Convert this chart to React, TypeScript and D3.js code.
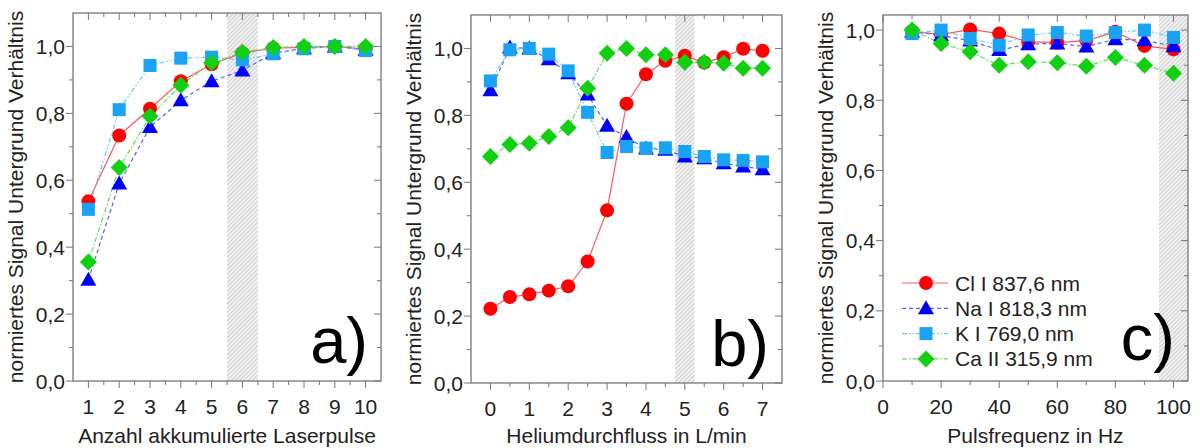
import React from 'react'
import { scaleLinear, line, range, format } from 'd3'

// Series values
const pulsesX = [1, 2, 3, 4, 5, 6, 7, 8, 9, 10]
const pulsesCl = [0.537, 0.734, 0.814, 0.896, 0.947, 0.98, 0.995, 0.997, 1.0, 0.992]
const pulsesNa = [0.303, 0.59, 0.759, 0.839, 0.896, 0.928, 0.98, 0.995, 1.0, 0.99]
const pulsesK = [0.513, 0.811, 0.943, 0.965, 0.968, 0.96, 0.978, 0.993, 1.0, 0.988]
const pulsesCa = [0.356, 0.638, 0.791, 0.884, 0.951, 0.983, 0.997, 1.0, 1.0, 1.0]

const heliumX = [0, 0.5, 1, 1.5, 2, 2.5, 3, 3.5, 4, 4.5, 5, 5.5, 6, 6.5, 7]
const heliumCl = [0.222, 0.257, 0.265, 0.276, 0.289, 0.363, 0.516, 0.835, 0.923, 0.963, 0.978, 0.958, 0.974, 0.999, 0.993]
const heliumNa = [0.875, 1.003, 1.0, 0.968, 0.926, 0.862, 0.769, 0.735, 0.701, 0.697, 0.677, 0.672, 0.657, 0.647, 0.639]
const heliumK = [0.903, 0.996, 1.0, 0.983, 0.933, 0.809, 0.689, 0.707, 0.702, 0.703, 0.692, 0.677, 0.667, 0.665, 0.661]
const heliumCa = [0.677, 0.713, 0.717, 0.737, 0.763, 0.881, 0.986, 1.0, 0.981, 0.981, 0.959, 0.959, 0.956, 0.941, 0.941]

const freqX = [10, 20, 30, 40, 50, 60, 70, 80, 90, 100]
const freqCl = [0.997, 0.987, 1.002, 0.99, 0.967, 0.964, 0.97, 0.995, 0.955, 0.945]
const freqNa = [0.995, 0.985, 0.97, 0.943, 0.96, 0.962, 0.953, 0.974, 0.971, 0.954]
const freqK = [0.99, 1.0, 0.976, 0.957, 0.986, 0.993, 0.983, 0.993, 1.0, 0.979]
const freqCa = [1.0, 0.962, 0.938, 0.9, 0.91, 0.907, 0.897, 0.922, 0.9, 0.877]

const seriesNames = ['Cl I 837,6 nm', 'Na I 818,3 nm', 'K I 769,0 nm', 'Ca II 315,9 nm']

const yTitle = 'normiertes Signal Untergrund Verhältnis'

const styles = [
    { marker: 'circle', fill: '#ff0000', stroke: '#ff5a5a', dash: null },
    { marker: 'triangle', fill: '#0000ff', stroke: '#5c5cff', dash: '4,3' },
    { marker: 'square', fill: '#1aa3f5', stroke: '#6cc6ff', dash: '5,2,1.5,2,1.5,2' },
    { marker: 'diamond', fill: '#11d011', stroke: '#5fe05f', dash: '5,2,1.5,2' },
]

const fmt = (v: number) => format('.1f')(v).replace('.', ',')
const FONT = '"Liberation Sans", Arial, sans-serif'
const TEXT = '#222'
const FRAME = '#777'
const FS = 21

const Marker = ({ type, x, y, fill }: any) => {
    if (type === 'circle') return <circle cx={x} cy={y} r={7} fill={fill} />
    if (type === 'triangle') return <path d={`M${x},${y - 8}L${x + 8},${y + 6}L${x - 8},${y + 6}Z`} fill={fill} />
    if (type === 'square') return <rect x={x - 6.5} y={y - 6.5} width={13} height={13} fill={fill} />
    return <path d={`M${x},${y - 8.5}L${x + 8.5},${y}L${x},${y + 8.5}L${x - 8.5},${y}Z`} fill={fill} />
}

const Panel = ({ box, xDomain, yDomain, xTicks, xMinor, xLabels, band, xs, ys, title, letter, letterY, showLegend, id }: any) => {
    const { left, right, top, bottom } = box
    const xScale = scaleLinear().domain(xDomain).range([left, right])
    const yScale = scaleLinear().domain(yDomain).range([bottom, top])
    const yTicks = range(0, 1.01, 0.2)
    const yMinor = range(0.1, yDomain[1], 0.2)

    return (
        <g fontFamily={FONT}>
            <defs>
                <pattern id={`hatch-${id}`} width={3} height={3} patternUnits="userSpaceOnUse" patternTransform="rotate(45)">
                    <rect width={3} height={3} fill="#f2f2f2" />
                    <line x1={0} y1={0} x2={0} y2={3} stroke="#b5b5b5" strokeWidth={1.2} />
                </pattern>
                <clipPath id={`clip-${id}`}>
                    <rect x={left} y={top} width={right - left} height={bottom - top} />
                </clipPath>
            </defs>
            <rect x={xScale(band[0])} y={top} width={xScale(band[1]) - xScale(band[0])} height={bottom - top} fill={`url(#hatch-${id})`} />

            {/* ticks */}
            {xTicks.map((t: number, i: number) => (
                <g key={'xt' + i}>
                    <line x1={xScale(t)} x2={xScale(t)} y1={bottom} y2={bottom + 7} stroke={FRAME} />
                    <line x1={xScale(t)} x2={xScale(t)} y1={top} y2={top + 7} stroke={FRAME} />
                    <text x={xScale(t)} y={bottom + 33} textAnchor="middle" fontSize={FS} fill={TEXT}>{xLabels[i]}</text>
                </g>
            ))}
            {xMinor.map((t: number, i: number) => (
                <g key={'xm' + i}>
                    <line x1={xScale(t)} x2={xScale(t)} y1={bottom} y2={bottom + 4} stroke={FRAME} />
                    <line x1={xScale(t)} x2={xScale(t)} y1={top} y2={top + 4} stroke={FRAME} />
                </g>
            ))}
            {yTicks.map((t: number, i: number) => (
                <g key={'yt' + i}>
                    <line x1={left - 7} x2={left} y1={yScale(t)} y2={yScale(t)} stroke={FRAME} />
                    <line x1={right - 7} x2={right} y1={yScale(t)} y2={yScale(t)} stroke={FRAME} />
                    <text x={left - 8} y={yScale(t) + 7.5} textAnchor="end" fontSize={FS} fill={TEXT}>{fmt(t)}</text>
                </g>
            ))}
            {yMinor.map((t: number, i: number) => (
                <g key={'ym' + i}>
                    <line x1={left - 4} x2={left} y1={yScale(t)} y2={yScale(t)} stroke={FRAME} />
                    <line x1={right - 4} x2={right} y1={yScale(t)} y2={yScale(t)} stroke={FRAME} />
                </g>
            ))}

            {/* series */}
            <g clipPath={`url(#clip-${id})`}>
                {ys.map((vals: number[], s: number) => {
                    const st = styles[s]
                    const path = line<number>().x((_, i) => xScale(xs[i])).y(v => yScale(v))(vals)
                    return <path key={'l' + s} d={path || ''} fill="none" stroke={st.stroke} strokeWidth={1.2} strokeDasharray={st.dash || undefined} />
                })}
                {ys.map((vals: number[], s: number) => (
                    <g key={'m' + s}>
                        {vals.map((v, i) => <Marker key={i} type={styles[s].marker} x={xScale(xs[i])} y={yScale(v)} fill={styles[s].fill} />)}
                    </g>
                ))}
            </g>

            <rect x={left} y={top} width={right - left} height={bottom - top} fill="none" stroke={FRAME} strokeWidth={1.3} />

            <text x={right - 13} y={letterY} textAnchor="end" fontSize={65} fill="#000">{letter}</text>

            {showLegend && seriesNames.map((name, s) => {
                const cy = 283 + s * 25.3
                const st = styles[s]
                return (
                    <g key={'lg' + s}>
                        <line x1={left + 19} x2={left + 65} y1={cy} y2={cy} stroke={st.stroke} strokeWidth={1.2} strokeDasharray={st.dash || undefined} />
                        <Marker type={st.marker} x={left + 43} y={cy} fill={st.fill} />
                        <text x={left + 72} y={cy + 7.5} fontSize={FS} fill={TEXT}>{name}</text>
                    </g>
                )
            })}

            <text x={(left + right) / 2} y={443} textAnchor="middle" fontSize={FS} fill={TEXT}>{title}</text>
            <text transform={`translate(${left - 50},${(top + bottom) / 2}) rotate(-90)`} textAnchor="middle" fontSize={FS} fill={TEXT}>{yTitle}</text>
        </g>
    )
}

export default function App() {
    return (
        <svg width={1200} height={448} style={{ position: 'absolute', left: 0, top: 0, background: '#fff' }}>
            <Panel id="a"
                box={{ left: 73, right: 381, top: 13, bottom: 381 }}
                xDomain={[0.5, 10.5]} yDomain={[0, 1.1]}
                xTicks={pulsesX} xLabels={pulsesX.map(String)}
                xMinor={range(1.5, 10.5, 1)}
                band={[5.5, 6.5]}
                xs={pulsesX} ys={[pulsesCl, pulsesNa, pulsesK, pulsesCa]}
                title="Anzahl akkumulierte Laserpulse" letter="a)" letterY={363} />
            <Panel id="b"
                box={{ left: 471, right: 782, top: 15, bottom: 383 }}
                xDomain={[-0.5, 7.5]} yDomain={[0, 1.1]}
                xTicks={range(0, 8, 1)} xLabels={range(0, 8, 1).map(String)}
                xMinor={range(0.5, 7.5, 1)}
                band={[4.75, 5.25]}
                xs={heliumX} ys={[heliumCl, heliumNa, heliumK, heliumCa]}
                title="Heliumdurchfluss in L/min" letter="b)" letterY={366} />
            <Panel id="c"
                box={{ left: 883, right: 1188, top: 15, bottom: 381 }}
                xDomain={[0, 105]} yDomain={[0, 1.043]}
                xTicks={range(0, 101, 20)} xLabels={range(0, 101, 20).map(String)}
                xMinor={range(10, 105, 20)}
                band={[95, 105]}
                xs={freqX} ys={[freqCl, freqNa, freqK, freqCa]}
                title="Pulsfrequenz in Hz" letter="c)" letterY={360} showLegend />
        </svg>
    )
}
